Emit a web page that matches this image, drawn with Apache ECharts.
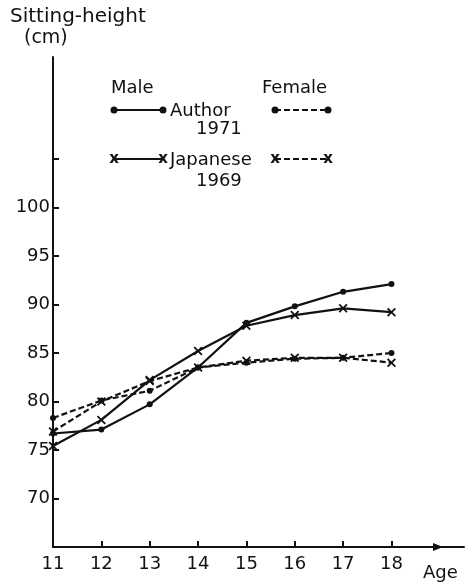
<!DOCTYPE html>
<html>
<head>
<meta charset="utf-8">
<script src="https://cdn.jsdelivr.net/npm/echarts@6/dist/echarts.min.js"></script>
<style>
html,body{margin:0;padding:0;background:#fff;}
#chart{width:469px;height:585px;}
</style>
</head>
<body>
<div id="chart"></div>
<script>
const ages = [11, 12, 13, 14, 15, 16, 17, 18];
const maleAuthor = [76.7, 77.1, 79.7, 83.5, 88.1, 89.8, 91.3, 92.1];
const maleJapanese = [75.4, 78.1, 82.2, 85.2, 87.8, 88.9, 89.6, 89.2];
const femaleAuthor = [78.3, 80.1, 81.1, 83.5, 84.0, 84.4, 84.5, 85.0];
const femaleJapanese = [76.9, 80.0, 82.1, 83.5, 84.2, 84.5, 84.5, 84.0];
const yTickValues = [70, 75, 80, 85, 90, 95, 100, 105];
const yLabelValues = [70, 75, 80, 85, 90, 95, 100];
const xTickValues = [11, 12, 13, 14, 15, 16, 17, 18];

const INK = '#111';
const FONT = 'DejaVu Sans';
const crossPath = 'path://M0,1.4L1.4,0L5,3.6L8.6,0L10,1.4L6.4,5L10,8.6L8.6,10L5,6.4L1.4,10L0,8.6L3.6,5Z';

function pairs(vals) { return ages.map((a, i) => [a, vals[i]]); }

function mk(name, vals, dashed, sym) {
  return {
    name: name, type: 'line', data: pairs(vals),
    symbol: sym === 'dot' ? 'circle' : crossPath,
    symbolSize: sym === 'dot' ? 6 : 9,
    showSymbol: true,
    itemStyle: { color: INK, borderWidth: 0 },
    lineStyle: { color: INK, width: 2.2, type: dashed ? [6, 3] : 'solid' },
    animation: false, z: 3
  };
}

const chart = echarts.init(document.getElementById('chart'), null, { renderer: 'canvas' });

function legendLine(x1, x2, y, dashed, sym) {
  const els = [{
    type: 'line', shape: { x1: x1, y1: y, x2: x2, y2: y },
    style: { stroke: INK, lineWidth: 2, lineDash: dashed ? [6, 3] : null }
  }];
  [x1, x2].forEach(x => {
    if (sym === 'dot') {
      els.push({ type: 'circle', shape: { cx: x, cy: y, r: 3.5 }, style: { fill: INK } });
    } else {
      els.push({ type: 'text', x: x, y: y, style: { text: 'x', font: 'bold 15px ' + FONT, fill: INK, align: 'center', verticalAlign: 'middle' } });
    }
  });
  return els;
}
const txt = (t, x, y, size, align) => ({
  type: 'text', x: x, y: y,
  style: { text: t, font: size + 'px ' + FONT, fill: INK, align: align || 'left', verticalAlign: 'middle' }
});

const graphics = [].concat(
  [txt('Sitting-height', 10, 17, 20), txt('(cm)', 24, 38, 19)],
  [txt('Male', 111, 88, 18), txt('Female', 262, 88, 18)],
  legendLine(114, 163, 110, false, 'dot'),
  [txt('Author', 170, 111, 18), txt('1971', 196, 129, 18)],
  legendLine(275, 328, 110, true, 'dot'),
  legendLine(114, 163, 159, false, 'x'),
  [txt('Japanese', 170, 160, 18), txt('1969', 196, 181, 18)],
  legendLine(275, 328, 159, true, 'x'),
  [txt('Age', 423, 573, 18)],
  [{ type: 'polygon', shape: { points: [[433, 543], [443, 547], [433, 551]] }, style: { fill: INK } }]
);

chart.setOption({
  backgroundColor: '#fff',
  animation: false,
  grid: { left: 53, right: 5, top: 57, bottom: 38, containLabel: false },
  xAxis: {
    type: 'value', min: 11, max: 19.5,
    axisLine: { show: true, lineStyle: { color: INK, width: 2 } },
    axisTick: { show: true, inside: true, length: 6, customValues: xTickValues, lineStyle: { color: INK, width: 2 } },
    axisLabel: { show: true, customValues: xTickValues, color: INK, fontFamily: FONT, fontSize: 18, margin: 8 },
    splitLine: { show: false }
  },
  yAxis: {
    type: 'value', min: 65, max: 115.5,
    axisLine: { show: true, lineStyle: { color: INK, width: 2 } },
    axisTick: { show: true, inside: true, length: 6, customValues: yTickValues, lineStyle: { color: INK, width: 2 } },
    axisLabel: { show: true, customValues: yLabelValues, color: INK, fontFamily: FONT, fontSize: 18, margin: 3 },
    splitLine: { show: false }
  },
  series: [
    mk('Male Author 1971', maleAuthor, false, 'dot'),
    mk('Male Japanese 1969', maleJapanese, false, 'x'),
    mk('Female Author 1971', femaleAuthor, true, 'dot'),
    mk('Female Japanese 1969', femaleJapanese, true, 'x')
  ],
  graphic: graphics
});
</script>
</body>
</html>
